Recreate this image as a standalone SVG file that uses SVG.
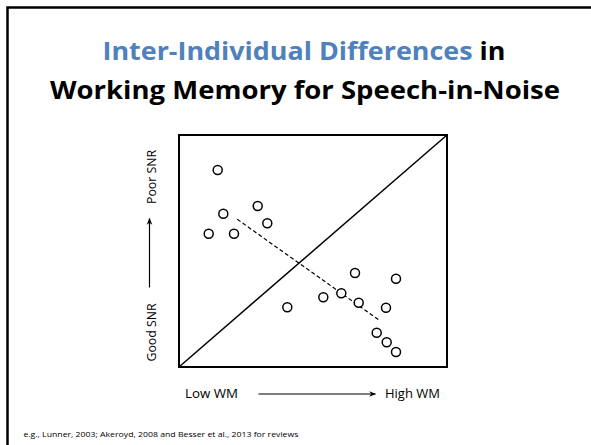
<svg xmlns="http://www.w3.org/2000/svg" width="591" height="445" viewBox="0 0 591 445">
  <style>
    .title { font-family: "Open Sans", "Liberation Sans", sans-serif; font-weight: bold; font-size: 25.6px; fill: #000; }
    .blue { fill: #4F81BD; }
    .lbl { font-family: "Open Sans", "Liberation Sans", sans-serif; font-size: 12.6px; fill: #000; }
    .foot { font-family: "Open Sans", "Liberation Sans", sans-serif; font-size: 8px; fill: #000; }
    .pt { fill: #fff; stroke: #000; stroke-width: 1.5; }
    .ax { stroke: #000; stroke-width: 1.2; fill: none; }
  </style>
  <defs>
    <marker id="ah" viewBox="0 0 10 10" refX="9" refY="5" markerWidth="7" markerHeight="7" markerUnits="userSpaceOnUse" orient="auto">
      <path d="M0,1 L10,5 L0,9 L3,5 Z" fill="#000"/>
    </marker>
  </defs>
  <rect width="591" height="445" fill="#fff"/>
  <path d="M7.5,445 V7.5 H591" fill="none" stroke="#000" stroke-width="2.5"/>

  <g id="title">
    <text class="title" x="304" y="60" text-anchor="middle" textLength="403" lengthAdjust="spacingAndGlyphs"><tspan class="blue">Inter-Individual Differences</tspan> in</text>
    <text class="title" x="305" y="98.5" text-anchor="middle" textLength="510" lengthAdjust="spacingAndGlyphs">Working Memory for Speech-in-Noise</text>
  </g>

  <g id="plot">
    <rect x="179" y="135" width="268" height="232" fill="none" stroke="#000" stroke-width="2"/>
    <line x1="179" y1="367" x2="447" y2="135" stroke="#000" stroke-width="1.5"/>
    <line x1="237.3" y1="219.3" x2="380" y2="320.7" stroke="#000" stroke-width="1.2" stroke-dasharray="4,2.5"/>
    <g id="points">
      <circle class="pt" cx="217.7" cy="170" r="4.5"/>
      <circle class="pt" cx="223.3" cy="213.7" r="4.5"/>
      <circle class="pt" cx="257.7" cy="206" r="4.5"/>
      <circle class="pt" cx="267.3" cy="223.3" r="4.5"/>
      <circle class="pt" cx="208.7" cy="233.7" r="4.5"/>
      <circle class="pt" cx="234" cy="233.7" r="4.5"/>
      <circle class="pt" cx="355" cy="273" r="4.5"/>
      <circle class="pt" cx="396" cy="278.7" r="4.5"/>
      <circle class="pt" cx="323.3" cy="297.3" r="4.5"/>
      <circle class="pt" cx="341.3" cy="293.3" r="4.5"/>
      <circle class="pt" cx="358.7" cy="302.7" r="4.5"/>
      <circle class="pt" cx="386" cy="307.7" r="4.5"/>
      <circle class="pt" cx="287.3" cy="307.3" r="4.5"/>
      <circle class="pt" cx="376.7" cy="332.7" r="4.5"/>
      <circle class="pt" cx="386.7" cy="342.3" r="4.5"/>
      <circle class="pt" cx="396" cy="352" r="4.5"/>
    </g>
  </g>

  <g id="connectors">
    <line class="ax" x1="149.5" y1="287.5" x2="149.5" y2="218.5" marker-end="url(#ah)"/>
    <line class="ax" x1="258.5" y1="394" x2="375.5" y2="394" marker-end="url(#ah)"/>
  </g>

  <g id="y-labels">
    <text class="lbl" transform="translate(156,177) rotate(-90)" text-anchor="middle" textLength="54" lengthAdjust="spacingAndGlyphs">Poor SNR</text>
    <text class="lbl" transform="translate(155.5,332.5) rotate(-90)" text-anchor="middle" textLength="58" lengthAdjust="spacingAndGlyphs">Good SNR</text>
  </g>

  <g id="x-labels">
    <text class="lbl" x="185" y="398.3" textLength="53" lengthAdjust="spacingAndGlyphs">Low WM</text>
    <text class="lbl" x="385" y="398.3" textLength="55" lengthAdjust="spacingAndGlyphs">High WM</text>
  </g>

  <g id="footnote">
    <text class="foot" x="23.4" y="437" textLength="275" lengthAdjust="spacingAndGlyphs">e.g., Lunner, 2003; Akeroyd, 2008 and Besser et al., 2013 for reviews</text>
  </g>
</svg>
